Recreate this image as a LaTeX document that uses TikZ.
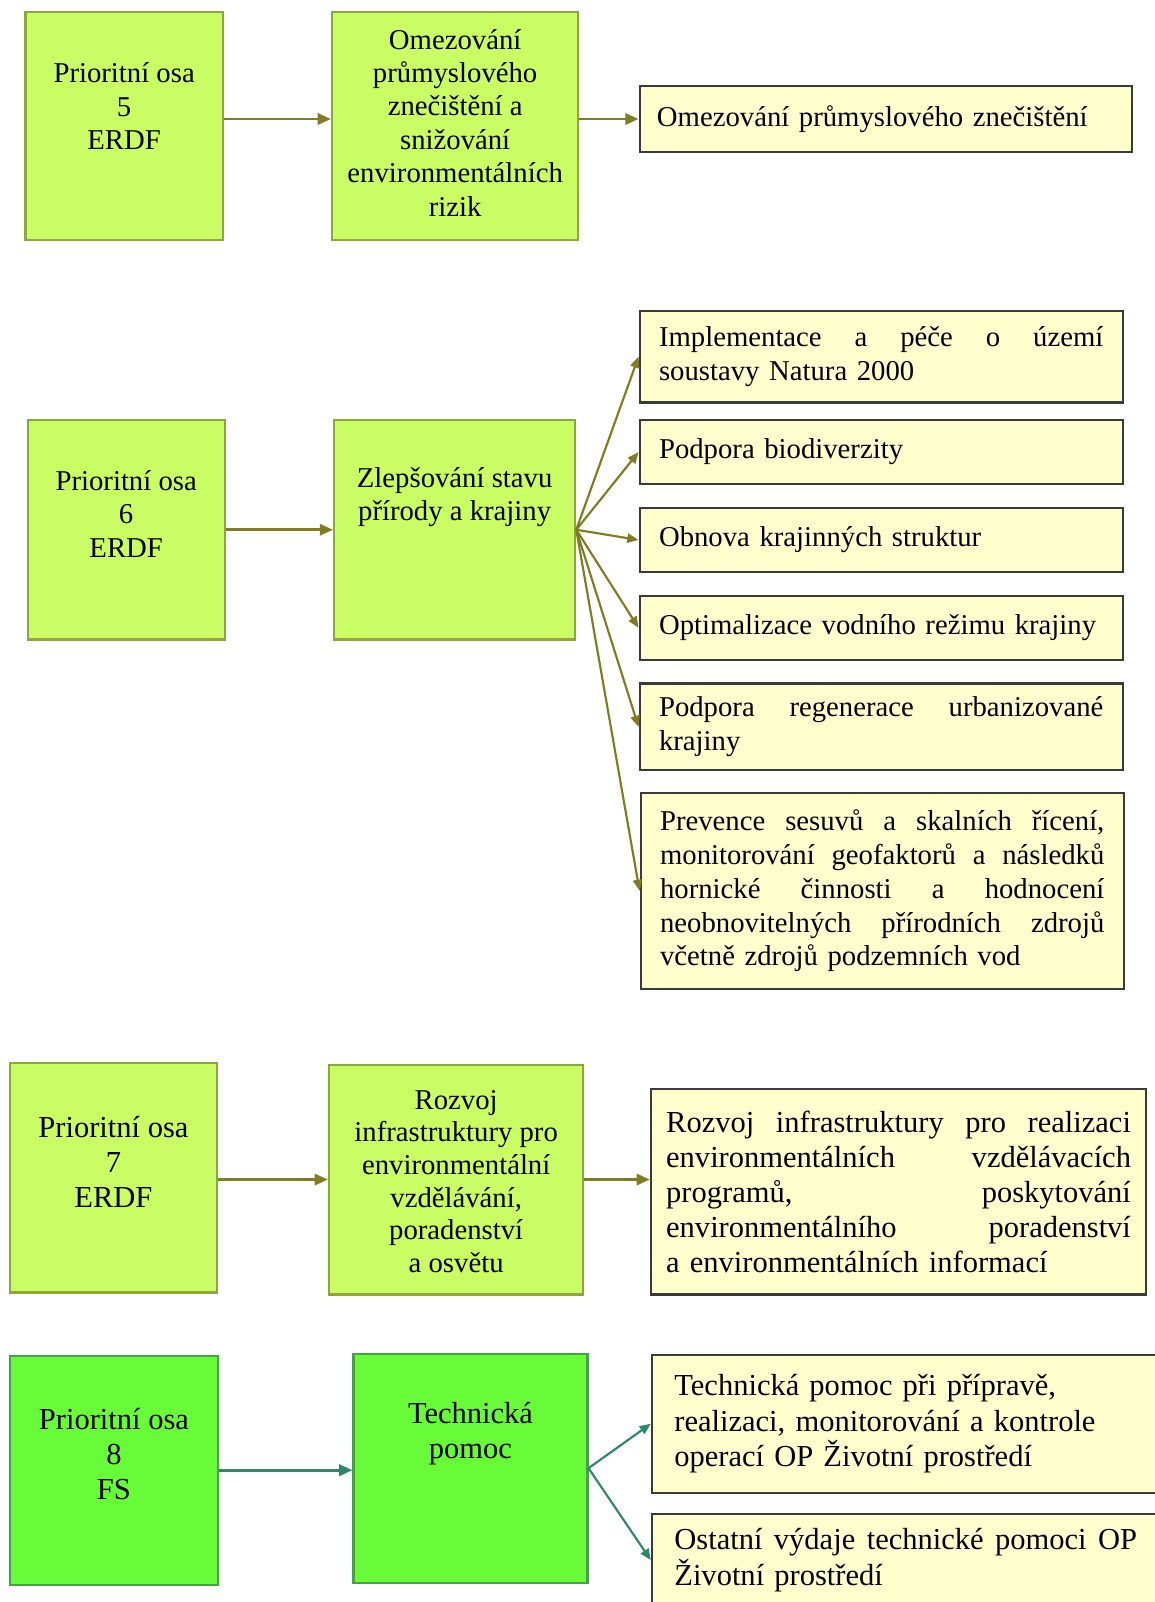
\documentclass[tikz,border=0pt]{standalone}
\usepackage{fontspec}
\setmainfont{Liberation Serif}
\usetikzlibrary{arrows.meta}
\setlength{\parindent}{0pt}

\definecolor{limefill}{RGB}{202,252,100}
\definecolor{limedraw}{RGB}{140,168,60}
\definecolor{greenfill}{RGB}{104,252,56}
\definecolor{greendraw}{RGB}{72,160,72}
\definecolor{creamfill}{RGB}{255,255,206}
\definecolor{creamdraw}{RGB}{58,58,58}
\definecolor{arrolive}{RGB}{128,124,34}
\definecolor{arrteal}{RGB}{46,136,108}

% one justified line of a box
\newcommand{\jline}[1]{\leavevmode\hbox to \hsize{\spaceskip=0.25em plus 1fil\relax #1}}

\begin{document}
\begin{tikzpicture}[x=0.02cm, y=-0.02cm,
  font=\fontsize{16}{18.8}\selectfont,
  bigtxt/.style={font=\fontsize{17}{19.6}\selectfont},
  osabox/.style={draw=limedraw, fill=limefill, line width=1.2pt},
  osabox8/.style={draw=greendraw, fill=greenfill, line width=1.2pt},
  osatext/.style={align=center, inner sep=0pt},
  opatbox/.style={draw=creamdraw, fill=creamfill, line width=1.2pt, align=left},
  hlavni/.style={draw=arrolive, line width=1.5pt, -{Triangle[length=0.26cm, width=0.22cm]}},
  vetev/.style={draw=arrolive, line width=1.2pt, -{Triangle[length=0.22cm, width=0.18cm]}},
  hlavni8/.style={hlavni, draw=arrteal},
  vetev8/.style={vetev, draw=arrteal}]
  \useasboundingbox (0,0) rectangle (1130,1568);

  % 1. Prioritni osa 5
  \node[osabox, minimum width=3.86cm, minimum height=4.46cm] (osa5) at (121.5,123.5) {};
  \node[osatext] (osa5t) at (121.5,104) {Prioritní osa\\5\\ERDF};
  \node[osabox, minimum width=4.82cm, minimum height=4.46cm] (cil5) at (445.5,123.5) {};
  \node[osatext, font=\fontsize{16}{18.6}\selectfont] (cil5t) at (445.5,120)
    {Omezování\\průmyslového\\znečištění a\\snižování\\environmentálních\\rizik};
  \node[opatbox, minimum width=9.64cm, minimum height=1.30cm, text width=8.96cm] (opat5) at (867,116.5)
    {Omezování průmyslového znečištění};

  \draw[hlavni] (osa5.east |- opat5.west) -- (cil5.west |- opat5.west);
  \draw[hlavni] (cil5.east |- opat5.west) -- (opat5.west);

  % 2. Prioritni osa 6
  \node[osabox, minimum width=3.86cm, minimum height=4.30cm] (osa6) at (123.5,518.5) {};
  \node[osatext] (osa6t) at (123.5,503) {Prioritní osa\\6\\ERDF};
  \node[osabox, minimum width=4.72cm, minimum height=4.30cm] (cil6) at (445,518.5) {};
  \node[osatext] (cil6t) at (445,486.5) {Zlepšování stavu\\přírody a krajiny};

  \node[opatbox, minimum width=9.46cm, minimum height=1.80cm, text width=8.70cm] (natura) at (862.5,349)
    {\jline{Implementace a péče o území}\\soustavy Natura 2000};
  \node[opatbox, minimum width=9.46cm, minimum height=1.26cm, text width=8.70cm] (biodiv) at (862.5,442.5)
    {Podpora biodiverzity};
  \node[opatbox, minimum width=9.46cm, minimum height=1.26cm, text width=8.70cm] (struktur) at (862.5,528.5)
    {Obnova krajinných struktur};
  \node[opatbox, minimum width=9.46cm, minimum height=1.26cm, text width=8.70cm] (vodrezim) at (862.5,614.5)
    {Optimalizace vodního režimu krajiny};
  \node[opatbox, minimum width=9.46cm, minimum height=1.70cm, text width=8.70cm] (urban) at (862.5,711.5)
    {\jline{Podpora regenerace urbanizované}\\krajiny};
  \node[opatbox, minimum width=9.46cm, minimum height=3.84cm, text width=8.70cm] (sesuvy) at (863.5,872)
    {\jline{Prevence sesuvů a skalních řícení,}\\
     \jline{monitorování geofaktorů a následků}\\
     \jline{hornické činnosti a hodnocení}\\
     \jline{neobnovitelných přírodních zdrojů}\\
     včetně zdrojů podzemních vod};

  \draw[hlavni] (osa6.east) -- (cil6.west);
  \foreach \cil in {natura,biodiv,struktur,vodrezim,urban,sesuvy}
    \draw[vetev] (cil6.east) -- (\cil.west);

  % 3. Prioritni osa 7
  \node[osabox, minimum width=4.04cm, minimum height=4.50cm] (osa7) at (111,1152.5) {};
  \node[osatext, bigtxt] (osa7t) at (111,1137.5) {Prioritní osa\\7\\ERDF};
  \node[osabox, minimum width=4.98cm, minimum height=4.50cm] (cil7) at (446.5,1154.5) {};
  \node[osatext, font=\fontsize{16}{18.2}\selectfont] (cil7t) at (446.5,1156.5)
    {Rozvoj\\infrastruktury pro\\environmentální\\vzdělávání,\\poradenství\\a osvětu};
  \node[opatbox, bigtxt, minimum width=9.70cm, minimum height=4.02cm, text width=9.10cm] (opat7) at (879.5,1166.5)
    {\jline{Rozvoj infrastruktury pro realizaci}\\
     \jline{environmentálních vzdělávacích}\\
     \jline{programů, poskytování}\\
     \jline{environmentálního poradenství}\\
     a environmentálních informací};

  \draw[hlavni] (osa7.east |- cil7.east) -- (cil7.west);
  \draw[hlavni] (cil7.east) -- (cil7.east -| opat7.west);

  % 4. Prioritni osa 8
  \node[osabox8, minimum width=4.06cm, minimum height=4.48cm] (osa8) at (111.5,1439) {};
  \node[osatext, bigtxt] (osa8t) at (111.5,1423) {Prioritní osa\\8\\FS};
  \node[osabox8, minimum width=4.58cm, minimum height=4.48cm] (cil8) at (460.5,1437) {};
  \node[osatext, bigtxt] (cil8t) at (460.5,1403.5) {Technická\\pomoc};
  \node[opatbox, bigtxt, minimum width=9.94cm, minimum height=2.70cm, text width=9.06cm] (tp1) at (886.5,1393.5)
    {Technická pomoc při přípravě,\\realizaci, monitorování a kontrole\\operací OP Životní prostředí};
  \node[opatbox, bigtxt, minimum width=9.94cm, minimum height=1.80cm, text width=9.06cm] (tp2) at (886.5,1527)
    {\jline{Ostatní výdaje technické pomoci OP}\\Životní prostředí};

  \draw[hlavni8] (osa8.east) -- (osa8.east -| cil8.west);
  \draw[vetev8] (cil8.east) -- (tp1.west);
  \draw[vetev8] (cil8.east) -- (tp2.west);
\end{tikzpicture}
\end{document}
